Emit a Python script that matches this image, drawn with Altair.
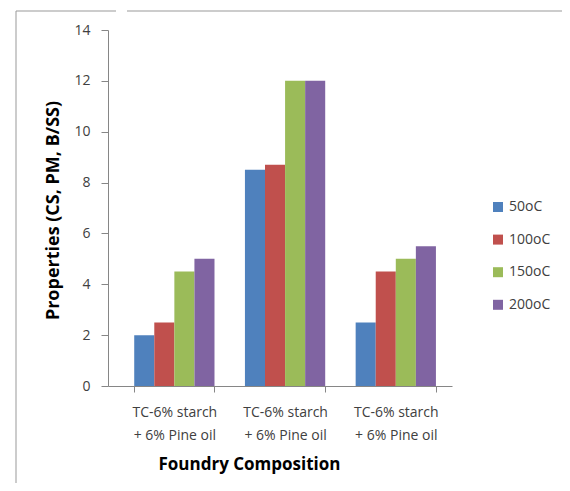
import altair as alt
import pandas as pd

groups = ["g1", "g2", "g3"]
group_line1 = ["TC-6% starch", "TC-6% starch", "TC-6% starch"]
group_line2 = ["+ 6% Pine oil", "+ 6% Pine oil", "+ 6% Pine oil"]
series = ["50oC", "100oC", "150oC", "200oC"]
v50 = [2.0, 8.5, 2.5]
v100 = [2.5, 8.7, 4.5]
v150 = [4.5, 12.0, 5.0]
v200 = [5.0, 12.0, 5.5]
colors = ["#4F81BD", "#C0504D", "#9BBB59", "#8064A2"]
y_ticks = [0, 2, 4, 6, 8, 10, 12, 14]

rows = []
for s, vals in zip(series, [v50, v100, v150, v200]):
    for g, v in zip(groups, vals):
        rows.append({"group": g, "series": s, "value": v})
df = pd.DataFrame(rows)

label_expr = ""
for g, a, b in zip(groups, group_line1, group_line2):
    label_expr += f"datum.value == '{g}' ? ['{a}', '{b}'] : "
label_expr += "''"

FONT = "Open Sans"
AX = "#868686"

bars = alt.Chart(df).mark_bar().encode(
    x=alt.X(
        "group:N",
        sort=groups,
        scale=alt.Scale(paddingInner=0.275, paddingOuter=0.191, align=0.62),
        axis=alt.Axis(
            title="Foundry Composition",
            labelExpr=label_expr,
            labelAngle=0,
            labelFont=FONT,
            labelFontSize=14,
            labelColor="#404040",
            labelLineHeight=23,
            labelPadding=13,
            tickBand="extent",
            tickSize=6,
            tickColor=AX,
            domainColor=AX,
            titleFont=FONT,
            titleFontSize=17,
            titleFontWeight="bold",
            titleColor="#000000",
            titleX=141,
            titleY=83,
            titleAlign="center",
            titleBaseline="alphabetic",
        ),
    ),
    xOffset=alt.XOffset("series:N", sort=series, scale=alt.Scale(paddingInner=0, paddingOuter=0)),
    y=alt.Y(
        "value:Q",
        scale=alt.Scale(domain=[0, 14], nice=False),
        axis=alt.Axis(
            title="Properties (CS, PM, B/SS)",
            values=y_ticks,
            grid=False,
            labelFont=FONT,
            labelFontSize=14,
            labelColor="#404040",
            labelPadding=11,
            tickSize=7,
            tickColor=AX,
            domainColor=AX,
            titleFont=FONT,
            titleFontSize=18,
            titleFontWeight="bold",
            titleColor="#000000",
            titleX=-50,
            titleY=180,
            titleAngle=270,
            titleAlign="center",
            titleBaseline="alphabetic",
        ),
    ),
    color=alt.Color(
        "series:N",
        sort=series,
        scale=alt.Scale(domain=series, range=colors),
        legend=alt.Legend(
            title=None,
            orient="none",
            legendX=383,
            legendY=170,
            symbolType="square",
            symbolSize=100,
            symbolStrokeWidth=0,
            labelFont=FONT,
            labelFontSize=14,
            labelColor="#404040",
            labelOffset=4,
            rowPadding=18.6,
            padding=0,
        ),
    ),
)

frame_data = alt.Data(values=[{"k": 1}])
frame_left = alt.Chart(frame_data).mark_rule(color="#999999", strokeWidth=1).encode(
    x=alt.value(-92), y=alt.value(-19), y2=alt.value(470)
)
frame_top1 = alt.Chart(frame_data).mark_rule(color="#999999", strokeWidth=1).encode(
    x=alt.value(-92), x2=alt.value(8), y=alt.value(-19)
)
frame_top2 = alt.Chart(frame_data).mark_rule(color="#999999", strokeWidth=1).encode(
    x=alt.value(19), x2=alt.value(470), y=alt.value(-19)
)

chart = alt.layer(bars, frame_left, frame_top1, frame_top2).properties(
    width=344,
    height=356,
    background="white",
    padding={"left": 100, "top": 22, "right": 110, "bottom": 97},
    autosize=alt.AutoSizeParams(type="none"),
).configure_view(stroke="transparent", strokeWidth=0)

chart.save("out.html", embed_options={"renderer": "svg", "actions": False})
